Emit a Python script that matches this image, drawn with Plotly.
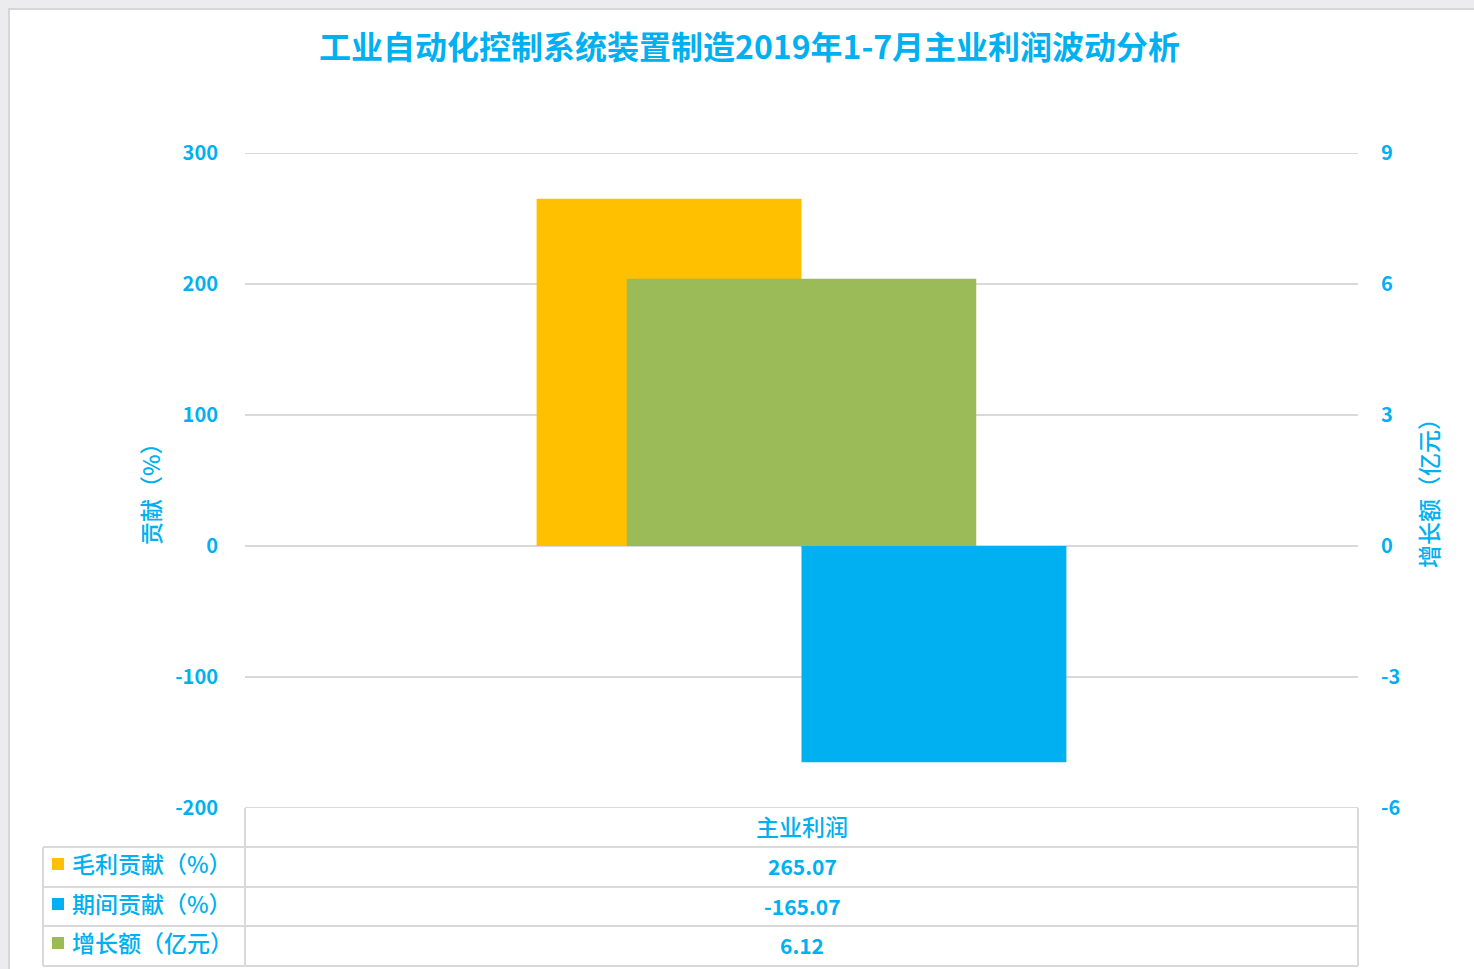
import plotly.graph_objects as go

# ---------------- data ----------------
title_text = "工业自动化控制系统装置制造2019年1-7月主业利润波动分析"
categories = ["主业利润"]
series_names = ["毛利贡献（%）", "期间贡献（%）", "增长额（亿元）"]
gross_contrib = [265.07]
period_contrib = [-165.07]
growth_amount = [6.12]
left_ticks = [-200, -100, 0, 100, 200, 300]
right_ticks = [-6, -3, 0, 3, 6, 9]
left_title = "贡献（%）"
right_title = "增长额（亿元）"

# ---------------- style ----------------
W, H = 1474, 969
PL, PR, PT, PB = 245, 1358, 153, 808
FONT = "Noto Sans CJK SC"
TXT = "#00B0F0"
C_ORANGE = "#FFC000"
C_BLUE = "#00B0F0"
C_GREEN = "#9BBB59"
GRID = "#D9D9D9"


def px(x):
    return (x - PL) / (PR - PL)


def py(y):
    return (PB - y) / (PB - PT)


fig = go.Figure()
fig.add_trace(go.Bar(x=categories, y=gross_contrib, name=series_names[0],
                     marker=dict(color=C_ORANGE, line=dict(width=0)),
                     width=0.238, offset=-0.238, yaxis="y"))
fig.add_trace(go.Bar(x=categories, y=period_contrib, name=series_names[1],
                     marker=dict(color=C_BLUE, line=dict(width=0)),
                     width=0.238, offset=0.0, yaxis="y"))
fig.add_trace(go.Bar(x=categories, y=growth_amount, name=series_names[2],
                     marker=dict(color=C_GREEN, line=dict(width=0)),
                     width=0.314, offset=-0.157, yaxis="y2"))

shapes = []
# window frame
shapes.append(dict(type="rect", xref="paper", yref="paper",
                   x0=px(8), x1=px(W + 5), y0=py(8), y1=py(H + 5),
                   fillcolor="#D6D6D6", line=dict(width=0), layer="below"))
shapes.append(dict(type="rect", xref="paper", yref="paper",
                   x0=px(10), x1=px(W + 5), y0=py(10), y1=py(H + 5),
                   fillcolor="white", line=dict(width=0), layer="below"))

lw = 2
# edge gridlines (top and bottom of the value axis)
for v in (left_ticks[0], left_ticks[-1]):
    shapes.append(dict(type="line", xref="paper", yref="y",
                       x0=0, x1=1, y0=v, y1=v,
                       line=dict(color=GRID, width=lw), layer="below"))

# data table lines
for yy in [847, 887, 926, 966]:
    shapes.append(dict(type="line", xref="paper", yref="paper",
                       x0=px(43), x1=px(PR), y0=py(yy), y1=py(yy),
                       line=dict(color=GRID, width=lw)))
shapes.append(dict(type="line", xref="paper", yref="paper",
                   x0=px(PL), x1=px(PL), y0=py(808), y1=py(966),
                   line=dict(color=GRID, width=lw)))
shapes.append(dict(type="line", xref="paper", yref="paper",
                   x0=px(PR), x1=px(PR), y0=py(808), y1=py(966),
                   line=dict(color=GRID, width=lw)))
shapes.append(dict(type="line", xref="paper", yref="paper",
                   x0=px(43), x1=px(43), y0=py(847), y1=py(966),
                   line=dict(color=GRID, width=lw)))


def ann(x, y, text, size, weight="normal", xanchor="center", angle=0):
    return dict(xref="paper", yref="paper", x=px(x), y=py(y), text=text,
                showarrow=False, xanchor=xanchor, yanchor="middle",
                textangle=angle,
                font=dict(family=FONT, size=size, color=TXT, weight=weight))


annotations = []
# table header
annotations.append(ann(802, 826, categories[0], 23, weight=500))
row_y = [866, 906, 945]
colors = [C_ORANGE, C_BLUE, C_GREEN]
values = [gross_contrib[0], period_contrib[0], growth_amount[0]]
for i in range(3):
    yc = row_y[i] - 2
    shapes.append(dict(type="rect", xref="paper", yref="paper",
                       x0=px(52), x1=px(64), y0=py(yc + 6), y1=py(yc - 6),
                       fillcolor=colors[i], line=dict(width=0)))
    annotations.append(ann(70, row_y[i] - 3, series_names[i], 23, weight=500,
                           xanchor="left"))
    annotations.append(ann(802, row_y[i], f"{values[i]:.2f}", 21, weight="bold"))

# axis titles
annotations.append(ann(150, 488, left_title, 23, weight=500, angle=-90))
annotations.append(ann(1428, 488, right_title, 23, weight=500, angle=-90))
# title
annotations.append(ann(749, 45, title_text, 32, weight="bold"))

fig.update_layout(
    width=W, height=H,
    margin=dict(l=PL, r=W - PR, t=PT, b=H - PB, pad=0),
    paper_bgcolor="#ECECEE", plot_bgcolor="white",
    barmode="overlay", showlegend=False,
    xaxis=dict(type="category", range=[-0.5, 0.5], showticklabels=False,
               showgrid=False, zeroline=False, showline=False, fixedrange=True),
    yaxis=dict(range=[-200, 300], tickvals=left_ticks,
               ticktext=[str(v) for v in left_ticks], showgrid=True,
               gridcolor=GRID, gridwidth=2, zeroline=True, zerolinecolor=GRID,
               zerolinewidth=2, showline=False, ticks="",
               ticklabelstandoff=26,
               tickfont=dict(family=FONT, size=20, color=TXT, weight="bold")),
    yaxis2=dict(range=[-6, 9], tickvals=right_ticks,
                ticktext=[str(v) for v in right_ticks], overlaying="y", side="right",
                showgrid=False, zeroline=False, showline=False, ticks="",
                ticklabelstandoff=22,
                tickfont=dict(family=FONT, size=20, color=TXT, weight="bold")),
    shapes=shapes, annotations=annotations,
)

fig.write_html("out.html", config={"displayModeBar": False},
               post_script="document.body.style.margin='0px';")
